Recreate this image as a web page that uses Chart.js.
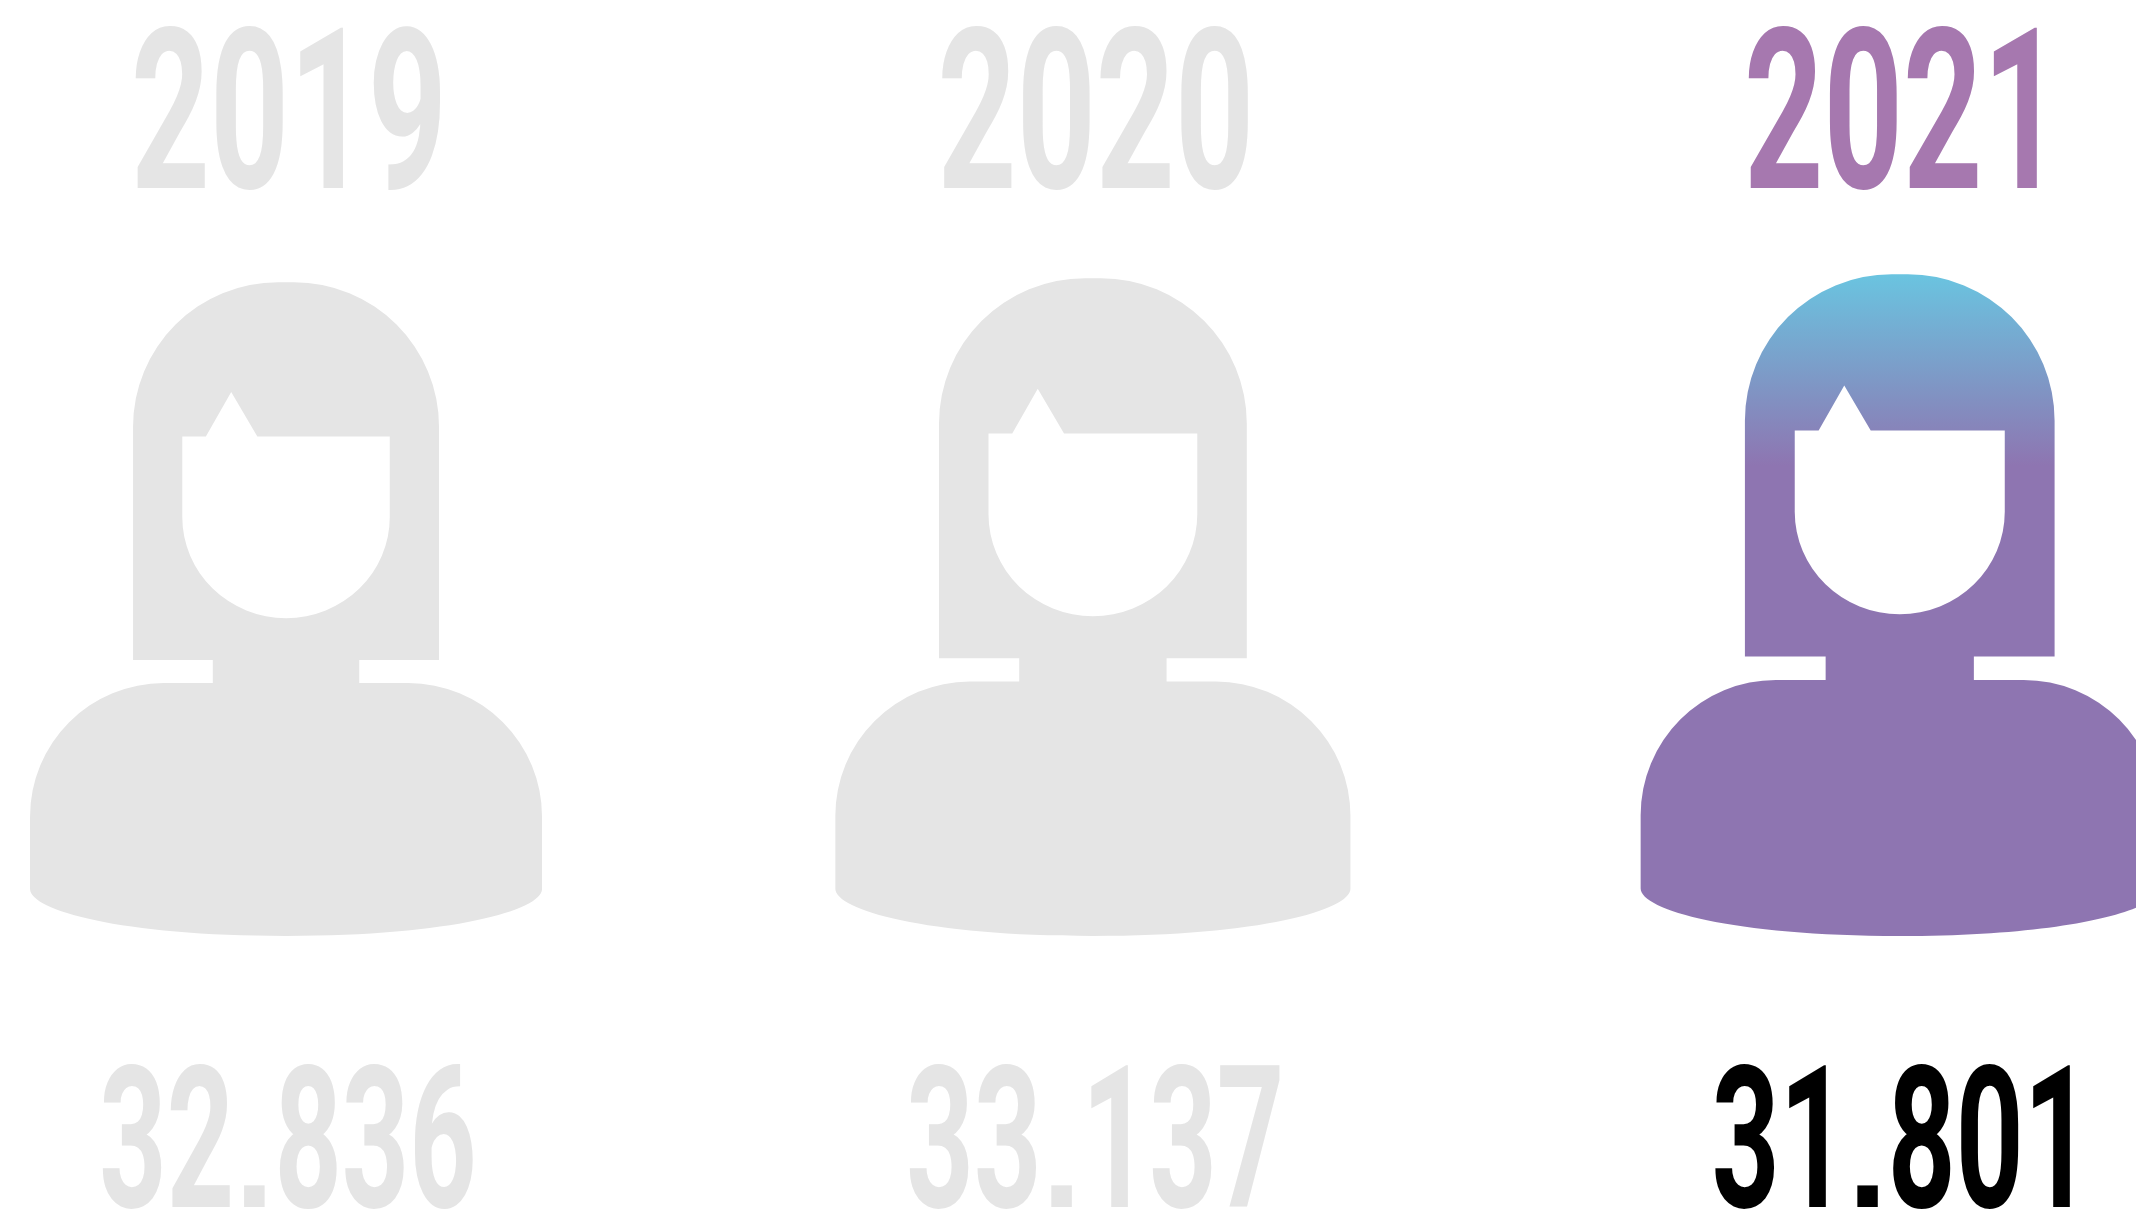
<!DOCTYPE html>
<html>
<head>
<meta charset="utf-8">
<style>
  html, body { margin: 0; padding: 0; background: #fff; overflow: hidden; }
  canvas { display: block; }
</style>
<script src="https://cdn.jsdelivr.net/npm/chart.js@4"></script>
</head>
<body>
<canvas id="myChart" width="2136" height="1213"></canvas>
<script>
const years = [2019, 2020, 2021];
const values = [32836, 33137, 31801];
// height of each figure, 2021 = 100 (the figures are not drawn to the value scale)
const figureHeight = [98.8, 99.4, 100];

const grey = "#e5e5e5";
const purple = "#8e75b1";
const yearColors = [grey, grey, "#a678af"];
const valueColors = [grey, grey, "#000000"];

const formatValue = (v) => String(v).replace(/\B(?=(\d{3})+$)/g, ".");

// person icon, drawn in a box 660.7 high with x = 0 in the middle
function personPath(ctx) {
  const PI = Math.PI;
  ctx.beginPath();
  ctx.moveTo(-8, 0);
  ctx.lineTo(8, 0);
  ctx.ellipse(8, 146, 146.6, 146, 0, -PI / 2, 0);
  ctx.lineTo(154.6, 381.7);
  ctx.lineTo(74, 381.7);
  ctx.lineTo(74, 405.1);
  ctx.lineTo(123.7, 405.1);
  ctx.ellipse(123.7, 540, 135, 134.9, 0, -PI / 2, 0);
  ctx.lineTo(258.7, 613.3);
  ctx.bezierCurveTo(258.7, 634.6, 168, 660.7, 0, 660.7);
  ctx.bezierCurveTo(-168, 660.7, -258.7, 634.6, -258.7, 613.3);
  ctx.lineTo(-258.7, 540);
  ctx.ellipse(-123.7, 540, 135, 134.9, 0, PI, PI * 1.5);
  ctx.lineTo(-74, 405.1);
  ctx.lineTo(-74, 381.7);
  ctx.lineTo(-154.6, 381.7);
  ctx.lineTo(-154.6, 146);
  ctx.ellipse(-8, 146, 146.6, 146, 0, PI, PI * 1.5);
  ctx.closePath();
  // face
  ctx.moveTo(-104.85, 156);
  ctx.lineTo(-81, 156);
  ctx.lineTo(-55.4, 111);
  ctx.lineTo(-29, 156);
  ctx.lineTo(104.85, 156);
  ctx.lineTo(104.85, 237.2);
  ctx.ellipse(0, 237.2, 104.85, 102.3, 0, 0, PI);
  ctx.closePath();
}

// squeezes the digits to the wanted ink width, no condensed DIN type is installed.
// the point comes from Liberation Sans because the Roboto one is round
function drawLabel(ctx, text, cx, baseline, size, inkWidth, color) {
  const digitFont = "bold " + size + "px Roboto";
  const dotFont = "bold 145px 'Liberation Sans'";
  const parts = text.split(".");
  ctx.save();
  ctx.textAlign = "left";
  ctx.textBaseline = "alphabetic";
  ctx.fillStyle = color;

  ctx.font = dotFont;
  const dotAdvance = parts.length > 1 ? ctx.measureText(".").width : 0;

  ctx.font = digitFont;
  const first = ctx.measureText(parts[0]);
  const last = ctx.measureText(parts[parts.length - 1]);
  const lead = first.actualBoundingBoxLeft;
  const trail = last.width - last.actualBoundingBoxRight;
  let digitsWidth = first.width;
  if (parts.length > 1) digitsWidth += last.width;
  const sx = (inkWidth - dotAdvance) / (digitsWidth + lead - trail);

  let x = cx - inkWidth / 2;
  function digits(str) {
    ctx.save();
    ctx.translate(x, baseline);
    ctx.scale(sx, 1);
    ctx.font = digitFont;
    ctx.fillText(str, lead, 0);
    ctx.restore();
    x += (ctx.measureText(str).width + lead) * sx;
  }
  digits(parts[0]);
  if (parts.length > 1) {
    ctx.font = dotFont;
    ctx.fillText(".", x, baseline);
    x += dotAdvance - lead * sx;
    ctx.font = digitFont;
    digits(parts[1]);
  }
  ctx.restore();
}

const yearWidths = [305, 306, 289];
const valueWidths = [370, 370, 355];
const labelShift = [1.8, 2, -7];

const personPlugin = {
  id: "persons",
  afterDatasetsDraw(chart) {
    const ctx = chart.ctx;
    const bars = chart.getDatasetMeta(0).data;
    bars.forEach(function (bar, i) {
      const k = (bar.base - bar.y) / 660.7;
      ctx.save();
      ctx.translate(bar.x, bar.y);
      ctx.scale(k, k);
      personPath(ctx);
      if (i === 2) {
        const g = ctx.createLinearGradient(0, 0, 0, 191);
        g.addColorStop(0, "#6ac4e0");
        g.addColorStop(1, purple);
        ctx.fillStyle = g;
      } else {
        ctx.fillStyle = grey;
      }
      ctx.fill("evenodd");
      ctx.restore();

      const cx = bar.x + labelShift[i];
      drawLabel(ctx, String(years[i]), cx, 188, 225, yearWidths[i], yearColors[i]);
      drawLabel(ctx, formatValue(values[i]), cx, 1207, 198, valueWidths[i], valueColors[i]);
    });
  },
};

new Chart(document.getElementById("myChart"), {
  type: "bar",
  data: {
    datasets: [
      {
        label: "Figures",
        data: years.map((y, i) => ({ x: y, y: figureHeight[i] })),
        backgroundColor: "rgba(0,0,0,0)",
        borderWidth: 0,
      },
    ],
  },
  options: {
    responsive: false,
    animation: false,
    layout: { padding: 0 },
    plugins: { legend: { display: false }, tooltip: { enabled: false } },
    scales: {
      x: { type: "linear", display: false, offset: false, min: 2018.6455, max: 2021.2928 },
      y: { type: "linear", display: false, min: -41.86, max: 141.45 },
    },
  },
  plugins: [personPlugin],
});
</script>
</body>
</html>
